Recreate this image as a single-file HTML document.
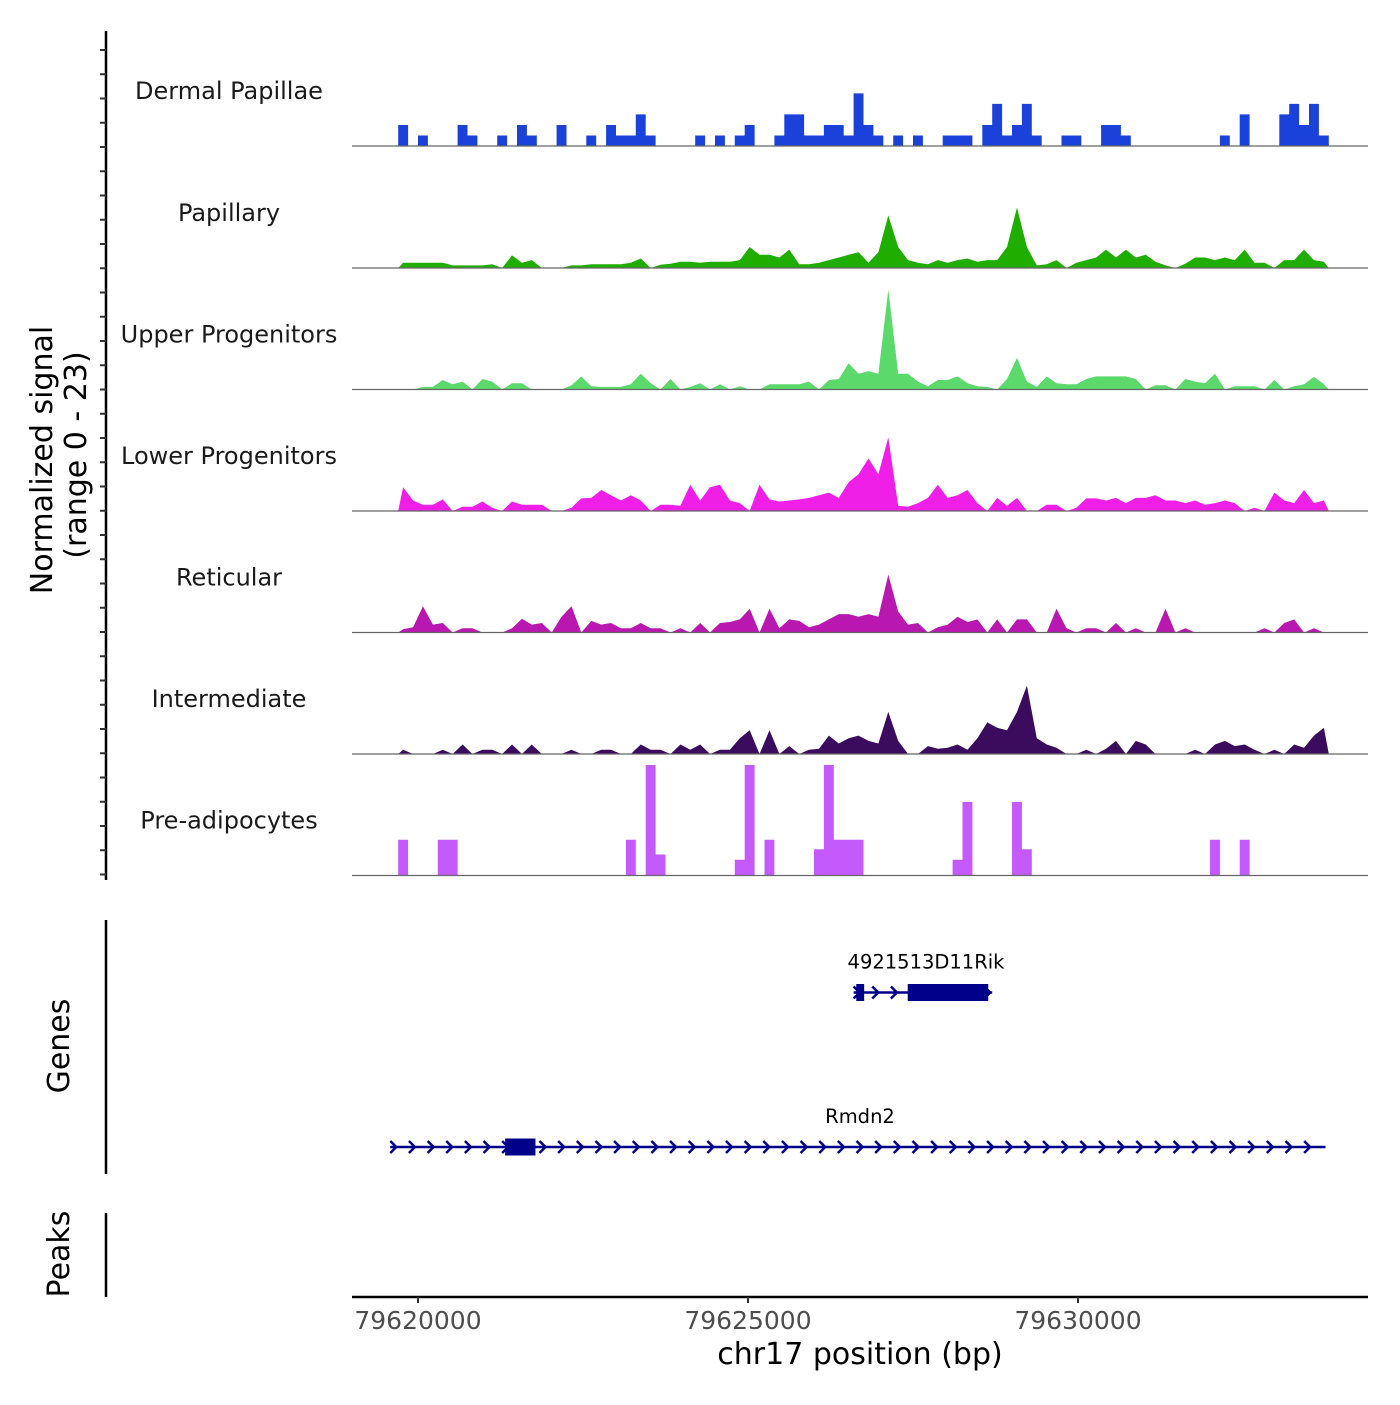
<!DOCTYPE html>
<html><head><meta charset="utf-8"><style>
body{margin:0;background:#fff}
svg text{font-family:"DejaVu Sans","Liberation Sans",sans-serif}
</style></head><body>
<svg id="chart" width="1400" height="1400" xmlns="http://www.w3.org/2000/svg">
<g id="tracks"></g>
<g id="yaxis"></g>
<text transform="translate(52,460) rotate(-90)" text-anchor="middle" font-size="30" fill="#000">Normalized signal</text>
<text transform="translate(86,455) rotate(-90)" text-anchor="middle" font-size="30" fill="#000">(range 0 - 23)</text>
<line x1="106" y1="920" x2="106" y2="1174" stroke="#000" stroke-width="2.5"/>
<text transform="translate(69,1046) rotate(-90)" text-anchor="middle" font-size="30">Genes</text>
<line x1="106" y1="1213" x2="106" y2="1297" stroke="#000" stroke-width="2.5"/>
<text transform="translate(69,1254) rotate(-90)" text-anchor="middle" font-size="30">Peaks</text>
<g id="genes"></g>
<g id="xaxis"></g>
<text x="860" y="1364" text-anchor="middle" font-size="30">chr17 position (bp)</text>
</svg>
<script>
const binStart = 79619700;
const binSize = 150;
const trackNames = ["Dermal Papillae","Papillary","Upper Progenitors","Lower Progenitors","Reticular","Intermediate","Pre-adipocytes"];
const trackColors = ["#1a41d9","#1fae00","#5bd96b","#f01fe8","#b817b0","#3b0b5e","#c45afb"];
const dermalPapillae = {0:4,2:2,6:4,7:2,10:2,12:4,13:2,16:4,19:2,21:4,22:2,23:2,24:6,25:2,30:2,32:2,34:2,35:4,38:2,39:6,40:6,41:2,42:2,43:4,44:4,45:2,46:10,47:4,48:2,50:2,52:2,55:2,56:2,57:2,59:4,60:8,61:2,62:4,63:8,64:2,67:2,68:2,71:4,72:4,73:2,83:2,85:6,89:6,90:8,91:4,92:8,93:2};
const papillary = {0:1,1:1,2:1,3:1,4:1,5:0.5,6:0.5,7:0.5,8:0.5,9:0.7,11:2.4,12:1,13:1.5,17:0.5,18:0.5,19:0.7,20:0.7,21:0.7,22:0.7,23:1,24:1.8,26:0.6,27:0.8,28:1.2,29:1.2,30:1,31:1.2,32:1.2,33:1.2,34:1.5,35:4,36:2.5,37:2.5,38:2,39:3.5,40:0.7,41:0.7,42:1,43:1.5,44:2,45:2.5,46:3,47:1,48:3,49:10,50:4,51:1.5,52:1,53:0.7,54:1.5,55:1,56:1.5,57:1.8,58:1.2,59:1.5,60:1.5,61:4,62:11.5,63:4,64:0.5,65:0.7,66:1.5,68:1,69:1.5,70:2,71:3.5,72:2,73:3.5,74:2,75:2.5,76:1.2,77:0.5,79:0.8,80:2,81:2,82:1.5,83:2,84:1.5,85:3.5,86:1,87:1,89:1.5,90:1.5,91:3.5,92:1.5,93:1.2};
const upperProgenitors = {2:0.5,3:0.5,4:1.8,5:1,6:1.5,8:2,9:1.5,11:1.2,12:1.2,17:0.8,18:2.5,19:0.6,20:0.5,21:0.5,22:0.5,23:1,24:3,25:1.2,27:2,29:0.5,30:1.2,32:1,34:0.6,37:1,38:1,39:1,40:1,41:1.5,43:1.8,44:2,45:5,46:3,47:3.5,48:3,49:19,50:3,51:3,52:1.5,53:0.6,54:1.8,55:1.8,56:2.5,57:1.2,58:0.6,59:0.5,61:2,62:6,63:1.5,64:0.5,65:2.5,66:1.2,67:1,68:1,69:2,70:2.5,71:2.5,72:2.5,73:2.5,74:2,76:0.8,77:0.8,79:2,80:1.5,81:1.2,82:3,84:0.6,85:0.6,86:0.6,88:1.8,90:0.6,91:1,92:2.4,93:1};
const lowerProgenitors = {0:4.5,1:2,2:1.2,3:1.2,4:2.2,6:0.8,7:0.8,8:1.8,9:0.6,11:1.8,12:1.2,13:1.2,14:1.2,17:0.6,18:2.4,19:2.5,20:4,21:3,22:2,23:3,24:2,26:1.2,27:1.2,28:1,29:5,30:2,31:4.5,32:5,33:2,34:1.5,36:5,37:2.2,38:1.8,39:2,40:2.2,41:2.5,42:3,43:3.5,44:2.5,45:5.5,46:7,47:10,48:7,49:14,50:1,51:0.8,52:1.5,53:2.5,54:5,55:2.5,56:3,57:4,58:1.5,60:2.5,61:1,62:2.5,65:1.2,66:1.2,68:0.6,69:2.4,70:2.4,71:2,72:2.5,73:1.5,74:2.5,75:2.5,76:3,77:2,78:2,79:1.5,80:2,81:1.2,82:1.5,83:2,84:1.5,86:0.6,88:3.5,89:2,90:1.5,91:4,92:1.5,93:2};
const reticular = {0:0.6,1:1,2:5,3:1.5,4:1.8,6:0.8,7:0.8,11:0.8,12:2.6,13:1.5,14:1.8,16:3,17:5,19:2.2,20:1.5,21:1.8,22:0.8,23:0.8,24:1.8,25:0.8,26:0.8,28:0.8,30:1.8,32:1.8,33:2,34:2.5,35:4.5,37:4.5,38:0.8,39:2.5,40:2.2,41:1,42:1.5,43:2.5,44:3.5,45:3.5,46:3,47:3.5,48:3,49:11,50:4,51:1.5,52:1.8,54:1,55:1.5,56:3,57:2,58:2.5,60:2.5,62:2.5,63:2.5,66:4.5,67:0.8,69:0.8,70:0.8,72:1.8,74:0.8,77:4.5,79:0.8,87:0.8,89:1.8,90:2.5,92:0.8};
const intermediate = {0:0.8,4:0.8,6:1.8,8:0.8,9:0.8,11:1.8,13:1.8,17:0.8,20:0.8,21:0.8,24:1.8,25:0.8,26:0.8,28:1.8,29:0.8,30:1.8,32:0.8,33:0.8,34:3,35:4.5,37:4.5,39:1.5,41:0.8,42:1,43:3.5,44:2,45:3,46:3.5,47:2.5,48:2,49:8,50:2.5,53:1.5,54:1,55:1.2,56:1.8,57:0.8,58:3,59:6,60:5,61:4.5,62:8,63:13,64:3,65:1.8,66:1.2,69:0.8,71:1,72:2.5,74:2.5,75:1.8,80:0.8,82:1.8,83:2.5,84:1.5,85:1.8,86:0.8,88:0.8,90:1.8,91:1.2,92:3.5,93:5};
const preAdipocytes = {0:6.8,4:6.8,5:6.8,23:6.8,25:21,26:4,34:3,35:21,37:6.8,42:5,43:21,44:6.8,45:6.8,46:6.8,56:3,57:14,62:14,63:5,82:6.8,85:6.8};
const trackData = [dermalPapillae,papillary,upperProgenitors,lowerProgenitors,reticular,intermediate,preAdipocytes];
const trackStep = [true,false,false,false,false,false,true];
const nBins = 94;
const xTicks = [79620000,79625000,79630000];

const X0 = 418, PXBP = 0.066;
function xs(bp){return X0 + (bp-79620000)*PXBP;}
const baselines = [146,268,389.5,511,632.5,754,875.5];
const unitPx = 5.26;
function ys(v,t){return baselines[t]-v*unitPx;}
const NS="http://www.w3.org/2000/svg";
function mk(tag,attrs,parent){const e=document.createElementNS(NS,tag);for(const k in attrs)e.setAttribute(k,attrs[k]);parent.appendChild(e);return e;}

const tg=document.getElementById('tracks');
trackNames.forEach((name,t)=>{
  const g=mk('g',{},tg);
  
  
  const lbl=mk('text',{x:229,y:baselines[t]-47,'text-anchor':'middle','font-size':'24',fill:'#1a1a1a'},g);
  lbl.textContent=name;
  
  
  const d=trackData[t];
  let pts=[];
  const base=baselines[t];
  pts.push([xs(binStart),base]);
  for(let i=0;i<nBins;i++){
    const v=d[i]||0;
    const a=xs(binStart+i*binSize), b=xs(binStart+(i+1)*binSize);
    if(trackStep[t]){pts.push([a,ys(v,t)]);pts.push([b,ys(v,t)]);}
    else pts.push([(a+b)/2,ys(v,t)]);
  }
  pts.push([xs(binStart+nBins*binSize),base]);
  const area=mk('polygon',{points:pts.map(p=>p[0].toFixed(1)+','+p[1].toFixed(1)).join(' '),fill:trackColors[t]},g);
  
  
  const bl=mk('line',{x1:352,x2:1368,y1:base,y2:base,stroke:'#666','stroke-width':'1.2'},g);
  
  
});

const ya=document.getElementById('yaxis');
mk('line',{x1:106,x2:106,y1:31,y2:880,stroke:'#000','stroke-width':'2.5'},ya);
for(let k=0;k<35;k++){
  const y=50+k*24.25;
  const tk=mk('line',{x1:100,x2:106,y1:y,y2:y,stroke:'#333','stroke-width':'2'},ya);
  
  
}

const gg=document.getElementById('genes');
const c='#00008b';
function gene(name,start,end,y,exons,labelX){
  const g=mk('g',{},gg);
  
  
  mk('line',{x1:xs(start),x2:xs(end),y1:y,y2:y,stroke:c,'stroke-width':'2.5'},g);
  for(let x=xs(start)+4;x<=xs(end)+1;x+=18.65){
    mk('polyline',{points:`${x-4},${y-6} ${x+2},${y} ${x-4},${y+6}`,fill:'none',stroke:c,'stroke-width':'2.5'},g);
  }
  exons.forEach(e=>{mk('rect',{x:xs(e[0]),y:y-8.5,width:xs(e[1])-xs(e[0]),height:17,fill:c},g);});
  const t=mk('text',{x:labelX,y:y-24,'text-anchor':'middle','font-size':'19.5',fill:'#000'},g);
  t.textContent=name;
}
gene('4921513D11Rik',79626600,79628700,992.5,[[79626640,79626760],[79627420,79628640]],926);
gene('Rmdn2',79619580,79633750,1147,[[79621320,79621780]],860);

const xa=document.getElementById('xaxis');
mk('line',{x1:352,x2:1368,y1:1297,y2:1297,stroke:'#000','stroke-width':'2.5'},xa);
xTicks.forEach(v=>{
  const x=xs(v);
  const tk=mk('line',{x1:x,x2:x,y1:1297,y2:1303,stroke:'#333','stroke-width':'2'},xa);
  
  
  const t=mk('text',{x:x,y:1329,'text-anchor':'middle','font-size':'25',fill:'#4d4d4d'},xa);
  t.textContent=String(v);
  
  
});
</script>
</body></html>
